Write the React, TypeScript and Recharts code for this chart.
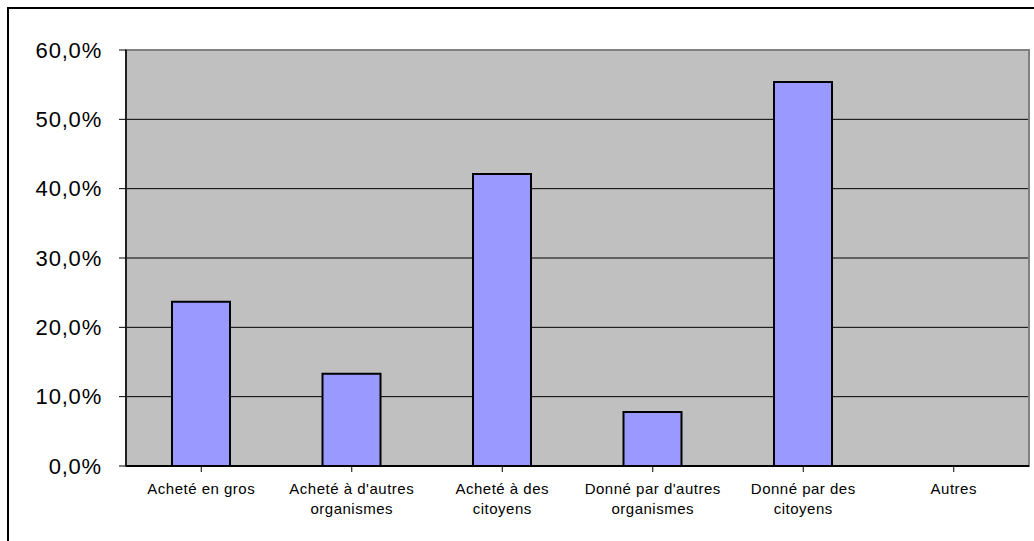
import React from 'react';
import {
  BarChart,
  Bar,
  XAxis,
  YAxis,
  CartesianGrid,
  ReferenceArea,
} from 'recharts';

const categories = [
  'Acheté en gros',
  "Acheté à d'autres organismes",
  'Acheté à des citoyens',
  "Donné par d'autres organismes",
  'Donné par des citoyens',
  'Autres',
];
const shares = [23.7, 13.3, 42.1, 7.8, 55.4, 0];
const yTicks = [0, 10, 20, 30, 40, 50, 60];

const data = categories.map((name, i) => ({ name, value: shares[i] }));

const font = '"Liberation Sans", Arial, sans-serif';

// wrap a label on words, Excel-style
function wrap(label: string, max = 18) {
  const lines: string[] = [];
  let cur = '';
  label.split(' ').forEach((w) => {
    const next = cur ? `${cur} ${w}` : w;
    if (next.length > max && cur) {
      lines.push(cur);
      cur = w;
    } else {
      cur = next;
    }
  });
  if (cur) lines.push(cur);
  return lines;
}

function CategoryTick({ x, y, payload }: any) {
  const lines = wrap(payload.value);
  return (
    <text
      x={x}
      y={y}
      textAnchor="middle"
      fill="#000"
      fontSize={15}
      fontFamily={font}
      letterSpacing={0.5}
    >
      {lines.map((line, i) => (
        <tspan key={i} x={x} y={y + 20 + i * 20}>
          {line}
        </tspan>
      ))}
    </text>
  );
}

export default function App() {
  return (
    <div
      style={{
        position: 'absolute',
        left: 0,
        top: 0,
        width: 1034,
        height: 541,
        overflow: 'hidden',
        background: '#fff',
      }}
    >
      <div
        style={{
          position: 'absolute',
          left: 7,
          top: 7,
          width: 1100,
          height: 600,
          borderTop: '2px solid #000',
          borderLeft: '2px solid #000',
        }}
      />
      <div style={{ position: 'absolute', left: 0, top: 0 }}>
        <BarChart
          width={1034}
          height={541}
          data={data}
          margin={{ top: 50, right: 5, left: 0, bottom: 0 }}
          barCategoryGap={0}
        >
          <CartesianGrid
            vertical={false}
            fill="#C0C0C0"
            fillOpacity={1}
            stroke="#000"
            strokeWidth={1}
            horizontalValues={[10, 20, 30, 40, 50]}
          />
          <ReferenceArea
            y1={0}
            y2={60}
            fill="none"
            stroke="#808080"
            strokeWidth={2}
            ifOverflow="visible"
          />
          <XAxis
            dataKey="name"
            height={75}
            interval={0}
            axisLine={{ stroke: '#000', strokeWidth: 2 }}
            tickLine={{ stroke: '#000' }}
            tickSize={6}
            tickMargin={2}
            tick={<CategoryTick />}
          />
          <YAxis
            width={126}
            domain={[0, 60]}
            ticks={yTicks}
            interval={0}
            axisLine={{ stroke: '#000', strokeWidth: 1.5 }}
            tickLine={{ stroke: '#000' }}
            tickSize={7}
            tickMargin={17}
            tickFormatter={(v: number) => `${v.toFixed(1).replace('.', ',')}%`}
            tick={{
              fill: '#000',
              fontSize: 22,
              fontFamily: font,
              letterSpacing: 0.8,
            }}
          />
          <Bar
            dataKey="value"
            fill="#9999FF"
            stroke="#000"
            strokeWidth={2}
            barSize={58}
            isAnimationActive={false}
          />
        </BarChart>
      </div>
    </div>
  );
}
